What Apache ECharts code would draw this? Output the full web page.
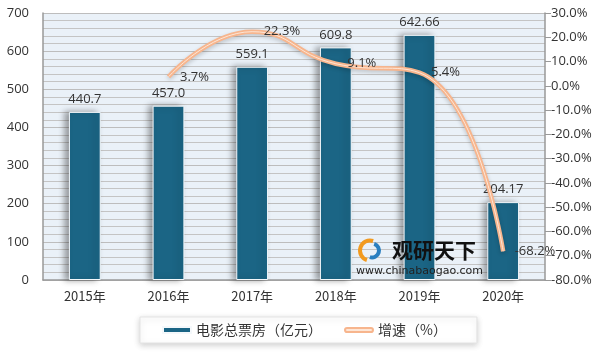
<!DOCTYPE html>
<html>
<head>
<meta charset="utf-8">
<script src="https://cdn.jsdelivr.net/npm/echarts@6/dist/echarts.min.js"></script>
<style>
html, body { margin: 0; padding: 0; background: #fff; }
#main { width: 607px; height: 353px; }
</style>
</head>
<body>
<div id="main"></div>
<script>
// 年份
var years = ['2015年', '2016年', '2017年', '2018年', '2019年', '2020年'];
// 电影总票房（亿元）
var boxOffice = [440.7, 457.0, 559.1, 609.8, 642.66, 204.17];
var boxLabels = ['440.7', '457.0', '559.1', '609.8', '642.66', '204.17'];
// 增速（%）
var growth = [null, 3.7, 22.3, 9.1, 5.4, -68.2];

var myChart = echarts.init(document.getElementById('main'));
var font = 'Noto Sans CJK SC';
var lineColor = '#F7B58D';
var option = {
    backgroundColor: '#fff',
    textStyle: { fontFamily: font },
    animation: false,
    grid: {
        left: 43,
        right: 62,
        top: 13,
        bottom: 73,
        show: true,
        backgroundColor: '#EAF1F8',
        borderWidth: 0
    },
    legend: {
        left: 140,
        top: 317,
        itemWidth: 28,
        itemHeight: 6,
        itemGap: 22,
        padding: [6, 30, 6, 22],
        borderColor: '#e4e4e4',
        borderWidth: 1,
        backgroundColor: '#fff',
        shadowColor: 'rgba(0,0,0,0.18)',
        shadowBlur: 6,
        shadowOffsetY: 2,
        textStyle: { fontSize: 14, color: '#333', fontFamily: font },
        data: [
            { name: '电影总票房（亿元）', icon: 'rect' },
            {
                name: '增速（%）',
                icon: 'path://M3,0 L37,0 A3,3 0 0 1 37,6 L3,6 A3,3 0 0 1 3,0 Z',
                itemStyle: { color: '#fde6d6', borderColor: lineColor, borderWidth: 2 }
            }
        ]
    },
    xAxis: [{
        type: 'category',
        data: years,
        axisLine: { lineStyle: { color: '#999', width: 1.5 } },
        axisTick: { show: false },
        axisLabel: { color: '#333', fontSize: 13, margin: 10, fontFamily: font }
    }],
    yAxis: [{
        type: 'value',
        min: 0,
        max: 700,
        interval: 100,
        axisLine: { show: true, lineStyle: { color: '#999', width: 1.5 } },
        axisTick: { show: false },
        axisLabel: { color: '#333', fontSize: 13, margin: 14, fontFamily: 'Open Sans' },
        splitLine: { lineStyle: { color: '#bdbdbd', width: 1 } },
        minorTick: { show: true, splitNumber: 5, length: 0 },
        minorSplitLine: { show: true, lineStyle: { color: '#c4c4c4', width: 1 } }
    }, {
        type: 'value',
        min: -80,
        max: 30,
        interval: 10,
        axisLine: { show: true, lineStyle: { color: '#999', width: 1.5 } },
        axisTick: { show: true, length: 6, lineStyle: { color: '#999' } },
        axisLabel: {
            color: '#333', fontSize: 13, margin: 6, fontFamily: 'Open Sans',
            formatter: function (v) { return v.toFixed(1) + '%'; }
        },
        splitLine: { show: false }
    }],
    series: [{
        name: '电影总票房（亿元）',
        type: 'bar',
        barWidth: '38%',
        data: boxOffice,
        itemStyle: {
            color: '#1B6585',
            borderColor: '#f4f8fb',
            borderWidth: 1,
            shadowColor: 'rgba(0,0,0,0.35)',
            shadowBlur: 6,
            shadowOffsetX: -4,
            shadowOffsetY: 0
        },
        label: {
            show: true,
            position: 'top',
            distance: 6,
            color: '#333',
            fontSize: 13,
            fontFamily: 'Open Sans',
            formatter: function (p) { return boxLabels[p.dataIndex]; }
        }
    }, {
        name: '增速（%）',
        type: 'line',
        yAxisIndex: 1,
        data: growth,
        smooth: 0.5,
        symbol: 'none',
        connectNulls: false,
        lineStyle: {
            color: lineColor,
            width: 4.5,
            shadowColor: 'rgba(0,0,0,0.2)',
            shadowBlur: 4,
            shadowOffsetY: 2
        },
        itemStyle: { color: lineColor },
        z: 5
    }, {
        name: '增速内线',
        type: 'line',
        yAxisIndex: 1,
        data: growth,
        smooth: 0.5,
        symbol: 'circle',
        symbolSize: 1,
        showSymbol: true,
        itemStyle: { color: 'rgba(0,0,0,0)' },
        lineStyle: { color: '#fde6d6', width: 1 },
        label: {
            show: true,
            position: 'right',
            distance: 11,
            color: '#333',
            fontSize: 13,
            fontFamily: 'Open Sans',
            formatter: function (p) {
                return p.value == null ? '' : Number(p.value).toFixed(1) + '%';
            }
        },
        labelLayout: { hideOverlap: false },
        z: 6,
        silent: true
    }],
    graphic: [{
        type: 'group',
        left: 356,
        top: 238,
        z: 100,
        children: [{
            type: 'arc',
            z: 100,
            shape: { cx: 14, cy: 12, r: 10, startAngle: Math.PI * 0.6, endAngle: Math.PI * 1.6 },
            style: { stroke: '#F29A1F', lineWidth: 4, fill: null }
        }, {
            type: 'arc',
            z: 100,
            shape: { cx: 16, cy: 12, r: 7, startAngle: -Math.PI * 0.4, endAngle: Math.PI * 0.6 },
            style: { stroke: '#2A7FC0', lineWidth: 4, fill: null }
        }, {
            type: 'text',
            z: 100,
            x: 36,
            y: 1,
            style: { text: '观研天下', fill: '#111', font: 'bold 21px "Noto Sans CJK SC"' }
        }, {
            type: 'text',
            z: 100,
            x: 0,
            y: 27,
            style: { text: 'www.chinabaogao.com', fill: '#222', font: '11px "DejaVu Sans"' }
        }]
    }]
};
myChart.setOption(option);
</script>
</body>
</html>
